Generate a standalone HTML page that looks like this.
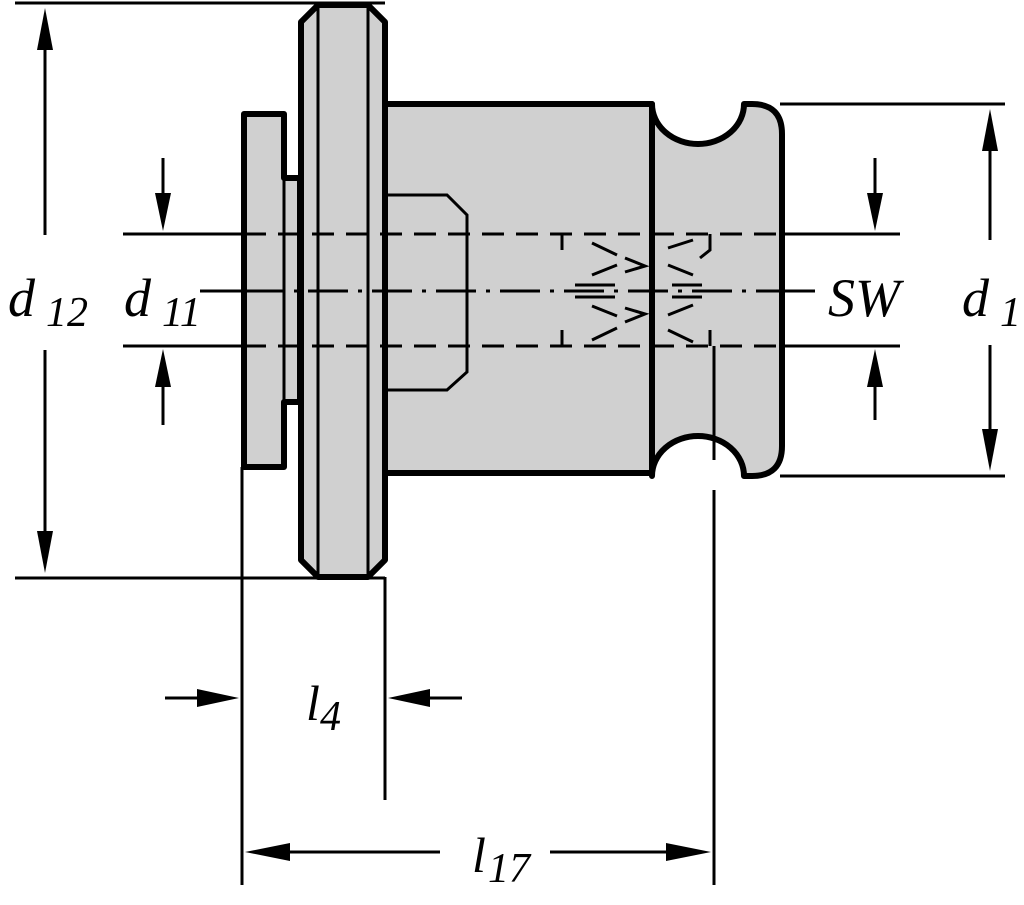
<!DOCTYPE html>
<html><head><style>
html,body{margin:0;padding:0;background:#fff;}
svg{display:block;}
text{font-family:"Liberation Serif",serif;font-style:italic;fill:#000;}
</style></head><body>
<svg width="1024" height="905" viewBox="0 0 1024 905" xmlns="http://www.w3.org/2000/svg">
<g fill="#d0d0d0" stroke="#000" stroke-width="6" stroke-linejoin="round">
<path d="M244,114 H284 V178 H300 V402 H284 V467 H244 Z"/>
<path d="M385,104 H652 V473 H385 Z"/>
<path d="M652,104 A46,40 0 0 0 744,104 H752 Q782,104 782,134 V446 Q782,476 752,476 H744 A46,40 0 0 0 652,476 Z"/>
<path d="M318,5 H368 L385,22 V560 L368,577 H318 L301,560 V22 Z"/>
</g>
<g stroke="#000" fill="none" stroke-width="3">
<line x1="318" y1="5" x2="318" y2="577"/>
<line x1="368" y1="5" x2="368" y2="577"/>
<line x1="284" y1="178" x2="284" y2="402"/>
<line x1="652" y1="104" x2="652" y2="476"/>
<path d="M385,195 H447 L467,215 V372 L447,390 H385"/>
<line x1="15" y1="3" x2="385" y2="3"/>
<line x1="15" y1="578" x2="385" y2="578"/>
<line x1="45" y1="235" x2="45" y2="40"/>
<line x1="45" y1="350" x2="45" y2="545"/>
<line x1="780" y1="104" x2="1005" y2="104"/>
<line x1="780" y1="476" x2="1005" y2="476"/>
<line x1="990" y1="240" x2="990" y2="140"/>
<line x1="990" y1="345" x2="990" y2="440"/>
<line x1="123" y1="234" x2="244" y2="234"/>
<line x1="123" y1="346" x2="244" y2="346"/>
<line x1="782" y1="234" x2="900" y2="234"/>
<line x1="782" y1="346" x2="900" y2="346"/>
<line x1="163" y1="158" x2="163" y2="200"/>
<line x1="163" y1="425" x2="163" y2="380"/>
<line x1="875" y1="158" x2="875" y2="200"/>
<line x1="875" y1="420" x2="875" y2="380"/>
<line x1="242" y1="467" x2="242" y2="885"/>
<line x1="385" y1="577" x2="385" y2="800"/>
<line x1="714" y1="346" x2="714" y2="460"/>
<line x1="714" y1="490" x2="714" y2="885"/>
<line x1="165" y1="698" x2="205" y2="698"/>
<line x1="462" y1="698" x2="420" y2="698"/>
<line x1="440" y1="852" x2="280" y2="852"/>
<line x1="550" y1="852" x2="680" y2="852"/>
<line x1="200" y1="291" x2="244" y2="291"/>
<line x1="780" y1="291" x2="815" y2="291"/>
</g>
<g fill="#000">
<polygon points="45,8 37,50 53,50"/>
<polygon points="45,573 37,531 53,531"/>
<polygon points="990,109 982,151 998,151"/>
<polygon points="990,471 982,429 998,429"/>
<polygon points="163,231 155,193 171,193"/>
<polygon points="163,349 155,387 171,387"/>
<polygon points="875,231 867,193 883,193"/>
<polygon points="875,349 867,387 883,387"/>
<polygon points="239,698 197,689 197,707"/>
<polygon points="388,698 430,689 430,707"/>
<polygon points="245,852 290,843 290,861"/>
<polygon points="711,852 666,843 666,861"/>
</g>
<g stroke="#000" stroke-width="3" fill="none">
<line x1="244" y1="234" x2="782" y2="234" stroke-dasharray="22,12"/>
<line x1="244" y1="346" x2="782" y2="346" stroke-dasharray="22,12"/>
<line x1="244" y1="291" x2="782" y2="291" stroke-dasharray="40,10,4,10"/>
<path d="M562,234 V250 M562,330 V346 M592,243 l25,12 M592,340 l25,-12 M592,275 l25,-10 M592,306 l25,10 M625,258 l20,8 l-20,6 M625,322 l20,-8 l-20,-6 M668,248 l25,-8 M668,330 l25,12 M668,265 l25,10 M668,315 l25,-10 M710,234 V250 l-10,8 M710,330 V346 M575,285 h40 M575,297 h40 M672,285 h30 M672,297 h30"/>
</g>
<text x="8" y="316" font-size="54">d</text><text x="46" y="326" font-size="42">12</text>
<text x="124" y="316" font-size="54">d</text><text x="162" y="326" font-size="42">11</text>
<text x="828" y="316" font-size="54">SW</text>
<text x="962" y="316" font-size="54">d</text><text x="1000" y="326" font-size="42">1</text>
<text x="306" y="720" font-size="50">l</text><text x="320" y="730" font-size="42">4</text>
<text x="472" y="872" font-size="50">l</text><text x="488" y="882" font-size="42">17</text>
</svg>
</body></html>
